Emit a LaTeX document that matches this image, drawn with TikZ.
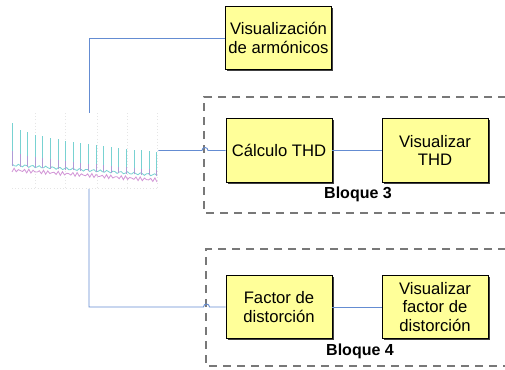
\documentclass[tikz,border=0pt]{standalone}
\usepackage{fontspec}
\setmainfont{Liberation Sans}
\usetikzlibrary{shadows}
\definecolor{boxyellow}{RGB}{255,255,153}
\definecolor{linkblue}{RGB}{100,140,210}
\definecolor{framegray}{RGB}{120,120,120}
\definecolor{wavecyan}{RGB}{120,210,210}
\definecolor{wavepurple}{RGB}{210,150,215}
\definecolor{wavemid}{RGB}{175,155,215}
\tikzset{
    procbox/.style={
        draw=black,
        fill=boxyellow,
        line width=0.6pt,
        minimum width=79.5pt,
        minimum height=47.5pt,
        align=center,
        inner sep=2pt,
        font=\fontsize{12.5}{14}\selectfont,
        drop shadow={shadow xshift=1.2pt, shadow yshift=-1.2pt, fill=black!75, opacity=1}
    },
    link/.style={
        draw=linkblue,
        line width=0.7pt
    },
    blockframe/.style={
        draw=framegray,
        line width=0.8pt,
        dash pattern=on 6pt off 4.5pt
    },
    blocklabel/.style={
        font=\fontsize{12}{14}\selectfont\bfseries,
        inner sep=1pt
    }
}

\begin{document}
\begin{tikzpicture}[x=0.75pt,y=-0.75pt]
\useasboundingbox[fill=white] (0,0) rectangle (505,369);

% marcos de bloque
\draw[blockframe] (506,97) -| (204,213) -- (506,213);
\draw[blockframe] (506,249) -| (206,366) -- (506,366);
\node[blocklabel] (lbl3) at (358,194) {Bloque 3};
\node[blocklabel] (lbl4) at (360,351) {Bloque 4};

% senal
\node[minimum width=111pt, minimum height=56.25pt, inner sep=0pt] (wave) at (84,151) {};
\foreach \gx in {35,65,97,127,157}
    \draw[black!10, dotted] (\gx,113) -- (\gx,188);
\draw[black!10, dotted] (12,188) -- (157,188);
\draw[wavecyan, line width=0.6pt] plot[domain=12:157, samples=70]
    (\x, {165+10*(\x-12)/145+1.2*sin(\x*53)});
\draw[wavepurple, line width=0.6pt] plot[domain=12:157, samples=70]
    (\x, {170+10*(\x-12)/145+2*sin(\x*97)});
\foreach \i in {0,...,19} {
    \pgfmathsetmacro{\sx}{12.3+7.6*\i}
    \pgfmathsetmacro{\st}{123+29*sqrt(\i/19)}
    \pgfmathsetmacro{\sb}{166+10*(\sx-12)/145}
    \draw[wavecyan, line width=0.6pt] (\sx,\sb) -- (\sx,\st);
    \draw[wavemid, line width=0.5pt] (\sx,\sb) -- (\sx,{(\sb+\st)/2+6});
}

% bloques
\node[procbox] (visarm) at (278.5,38) {Visualización\\de armónicos};
\node[procbox] (calcthd) at (279,150.5) {Cálculo THD};
\node[procbox] (visthd) at (435,150.5) {Visualizar\\THD};
\node[procbox] (factor) at (279,307) {Factor de\\distorción};
\node[procbox] (visfactor) at (435,307) {Visualizar\\factor de\\distorción};

% conexiones
\coordinate (jump3) at (202,150.5);
\coordinate (jump4) at (203.5,307);
\draw[link] (visarm.west) -| ([xshift=3.75pt]wave.north);
\draw[link] (wave.east |- calcthd.west) -- (jump3)
    arc[start angle=180, end angle=0, radius=2.25pt] -- (calcthd.west);
\draw[link] (calcthd.east) -- (visthd.west);
\draw[link] ([xshift=3.75pt]wave.south) |- (jump4)
    arc[start angle=180, end angle=0, radius=2.25pt] -- (factor.west);
\draw[link] (factor.east) -- (visfactor.west);
\end{tikzpicture}
\end{document}
